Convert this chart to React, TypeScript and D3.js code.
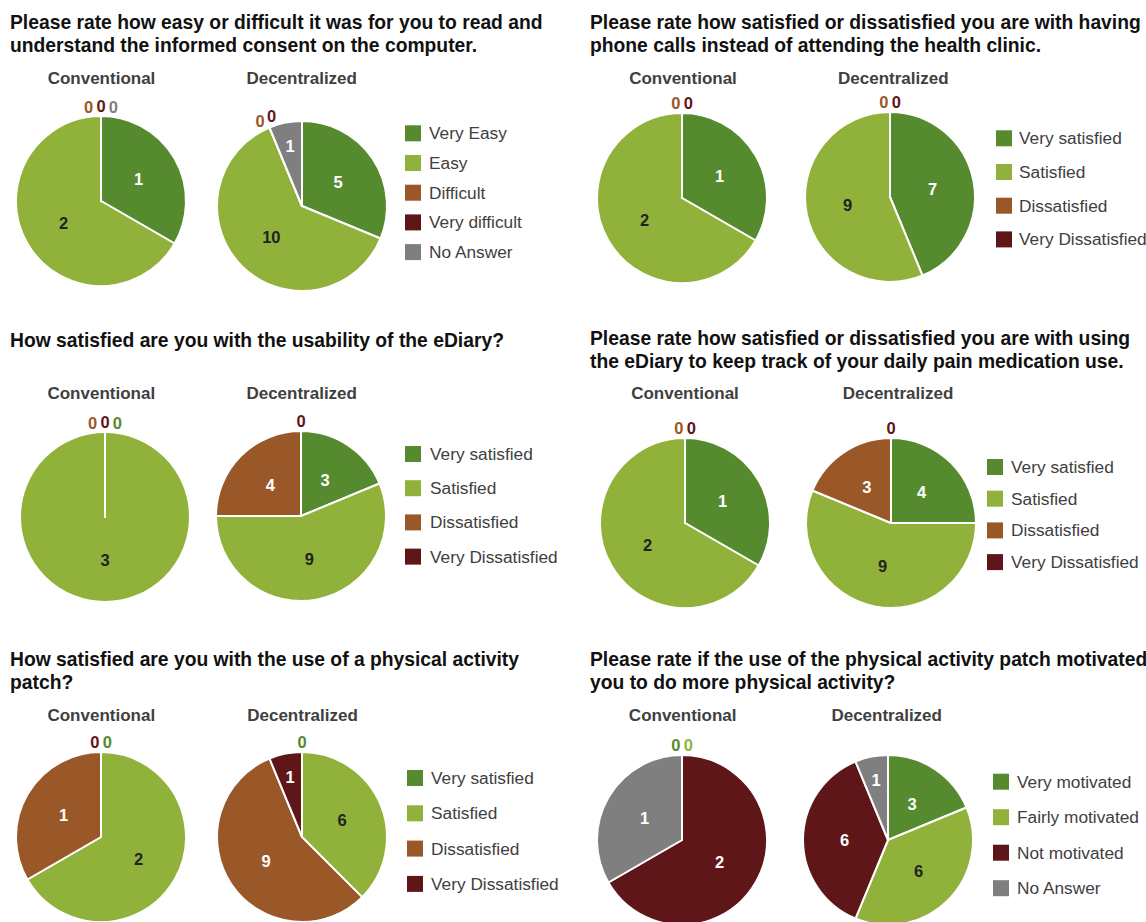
import React from "react";
import * as d3 from "d3";

// ---------- DATA ----------
const EASE_CATEGORIES = ["Very Easy", "Easy", "Difficult", "Very difficult", "No Answer"];
const SATISFACTION_CATEGORIES = ["Very satisfied", "Satisfied", "Dissatisfied", "Very Dissatisfied"];
const MOTIVATION_CATEGORIES = ["Very motivated", "Fairly motivated", "Not motivated", "No Answer"];
const GROUPS = ["Conventional", "Decentralized"];

const CONSENT_CONVENTIONAL = [1, 2, 0, 0, 0];
const CONSENT_DECENTRALIZED = [5, 10, 0, 0, 1];
const PHONE_CONVENTIONAL = [1, 2, 0, 0];
const PHONE_DECENTRALIZED = [7, 9, 0, 0];
const EDIARY_USABILITY_CONVENTIONAL = [0, 3, 0, 0];
const EDIARY_USABILITY_DECENTRALIZED = [3, 9, 4, 0];
const EDIARY_TRACK_CONVENTIONAL = [1, 2, 0, 0];
const EDIARY_TRACK_DECENTRALIZED = [4, 9, 3, 0];
const PATCH_SATISFACTION_CONVENTIONAL = [0, 2, 1, 0];
const PATCH_SATISFACTION_DECENTRALIZED = [0, 6, 9, 1];
const PATCH_MOTIVATION_CONVENTIONAL = [0, 0, 2, 1];
const PATCH_MOTIVATION_DECENTRALIZED = [3, 6, 6, 1];

const TITLES = [
  ["Please rate how easy or difficult it was for you to read and", "understand the informed consent on the computer."],
  ["Please rate how satisfied or dissatisfied you are with having", "phone calls instead of attending the health clinic."],
  ["How satisfied are you with the usability of the eDiary?"],
  ["Please rate how satisfied or dissatisfied you are with using", "the eDiary to keep track of your daily pain medication use."],
  ["How satisfied are you with the use of a physical activity", "patch?"],
  ["Please rate if the use of the physical activity patch motivated", "you to do more physical activity?"],
];

// ---------- STYLE ----------
const DARK_GREEN = "#558a2f";
const LIGHT_GREEN = "#90b23a";
const BROWN = "#9a5829";
const DARK_RED = "#5f1619";
const GRAY = "#7f7f7f";
const EASE_COLORS = [DARK_GREEN, LIGHT_GREEN, BROWN, DARK_RED, GRAY];
const SATISFACTION_COLORS = [DARK_GREEN, LIGHT_GREEN, BROWN, DARK_RED];
const MOTIVATION_COLORS = [DARK_GREEN, LIGHT_GREEN, DARK_RED, GRAY];

const FONT = "'Liberation Sans', Arial, Helvetica, sans-serif";
const R = 85;

type Panel = {
  title: string[];
  titleX: number;
  titleY: number;
  categories: string[];
  colors: string[];
  series: number[][];
  centers: [number, number][];
  headerX: number[];
  headerY: number;
  legend: { squareX: number; textX: number; y0: number; step: number };
};

const PANELS: Panel[] = [
  {
    title: TITLES[0], titleX: 10, titleY: 29,
    categories: EASE_CATEGORIES, colors: EASE_COLORS,
    series: [CONSENT_CONVENTIONAL, CONSENT_DECENTRALIZED],
    centers: [[101, 201], [302, 206]], headerX: [101.5, 301.7], headerY: 84,
    legend: { squareX: 405, textX: 429, y0: 133.3, step: 29.7 },
  },
  {
    title: TITLES[1], titleX: 590, titleY: 29,
    categories: SATISFACTION_CATEGORIES, colors: SATISFACTION_COLORS,
    series: [PHONE_CONVENTIONAL, PHONE_DECENTRALIZED],
    centers: [[682, 198], [890, 197]], headerX: [683, 893.3], headerY: 84,
    legend: { squareX: 996, textX: 1019, y0: 138.3, step: 33.7 },
  },
  {
    title: TITLES[2], titleX: 10, titleY: 347,
    categories: SATISFACTION_CATEGORIES, colors: SATISFACTION_COLORS,
    series: [EDIARY_USABILITY_CONVENTIONAL, EDIARY_USABILITY_DECENTRALIZED],
    centers: [[105, 517], [301, 516]], headerX: [101.3, 301.7], headerY: 399.3,
    legend: { squareX: 405, textX: 430, y0: 454, step: 34.2 },
  },
  {
    title: TITLES[3], titleX: 590, titleY: 345,
    categories: SATISFACTION_CATEGORIES, colors: SATISFACTION_COLORS,
    series: [EDIARY_TRACK_CONVENTIONAL, EDIARY_TRACK_DECENTRALIZED],
    centers: [[685, 523], [891, 523]], headerX: [685, 898], headerY: 399.3,
    legend: { squareX: 987, textX: 1011, y0: 467, step: 31.7 },
  },
  {
    title: TITLES[4], titleX: 10, titleY: 666,
    categories: SATISFACTION_CATEGORIES, colors: SATISFACTION_COLORS,
    series: [PATCH_SATISFACTION_CONVENTIONAL, PATCH_SATISFACTION_DECENTRALIZED],
    centers: [[101, 837], [302, 837]], headerX: [101.3, 302.5], headerY: 720.7,
    legend: { squareX: 407, textX: 431, y0: 778, step: 35.3 },
  },
  {
    title: TITLES[5], titleX: 590, titleY: 666,
    categories: MOTIVATION_CATEGORIES, colors: MOTIVATION_COLORS,
    series: [PATCH_MOTIVATION_CONVENTIONAL, PATCH_MOTIVATION_DECENTRALIZED],
    centers: [[682, 840], [888, 840]], headerX: [682.7, 886.7], headerY: 720.7,
    legend: { squareX: 993, textX: 1017, y0: 781.7, step: 35.5 },
  },
];

const TAU = Math.PI * 2;

function Pie({ values, colors, cx, cy }: { values: number[]; colors: string[]; cx: number; cy: number }) {
  const pie = d3.pie<number>().sort(null).value((d) => d).startAngle(0).endAngle(TAU);
  const arcs = pie(values);
  const arc = d3.arc<d3.PieArcDatum<number>>().innerRadius(0).outerRadius(R);

  // zero-valued labels, grouped by angular position
  const zeros = arcs
    .map((a, i) => {
      let key = a.startAngle;
      if (Math.abs(key - TAU) < 1e-6) key = -1e-3; // end-of-circle zeros sit just left of top
      return { i, key, pos: Math.abs(key) < 0.01 ? 0 : key };
    })
    .filter((z) => values[z.i] === 0)
    .sort((a, b) => a.pos - b.pos || a.key - b.key || a.i - b.i);
  const groups = d3.groups(zeros, (z) => Math.round(z.pos * 1000));
  const zeroLabels: { i: number; x: number; y: number }[] = [];
  const ZR = 95;
  const SP = 12.5;
  groups.forEach(([, items]) => {
    items.forEach((z, k) => {
      const ang = z.pos + ((k - (items.length - 1) / 2) * SP) / ZR;
      zeroLabels.push({ i: z.i, x: Math.sin(ang) * ZR, y: -Math.cos(ang) * ZR });
    });
  });

  return (
    <g transform={`translate(${cx},${cy})`}>
      {arcs.map((a, i) => (
        <path key={i} d={arc(a) || ""} fill={colors[i]} stroke="#fff" strokeWidth={2} strokeLinejoin="round" />
      ))}
      {arcs.map((a, i) => {
        if (values[i] === 0) return null;
        const span = a.endAngle - a.startAngle;
        const lr = span < 0.6 ? R * 0.72 : R * 0.51;
        const mid = (a.startAngle + a.endAngle) / 2;
        const x = Math.sin(mid) * lr;
        const y = -Math.cos(mid) * lr;
        const fill = colors[i] === LIGHT_GREEN ? "#222" : "#ffffff";
        return (
          <text key={"l" + i} x={x} y={y} textAnchor="middle" dominantBaseline="central"
            fontFamily={FONT} fontWeight="bold" fontSize={16.5} fill={fill}>
            {values[i]}
          </text>
        );
      })}
      {zeroLabels.map((z) => (
        <text key={"z" + z.i} x={z.x} y={z.y} textAnchor="middle" dominantBaseline="central"
          fontFamily={FONT} fontWeight="bold" fontSize={16.5} fill={colors[z.i]}>
          {values[z.i]}
        </text>
      ))}
    </g>
  );
}

function PanelView({ p }: { p: Panel }) {
  return (
    <g>
      <text x={p.titleX} y={p.titleY} fontFamily={FONT} fontWeight="bold" fontSize={19.3} fill="#111">
        {p.title.map((line, i) => (
          <tspan key={i} x={p.titleX} dy={i === 0 ? 0 : 23}>{line}</tspan>
        ))}
      </text>
      {GROUPS.map((g, gi) => (
        <text key={g} x={p.headerX[gi]} y={p.headerY} textAnchor="middle" fontFamily={FONT}
          fontWeight="bold" fontSize={17} fill="#404040">{g}</text>
      ))}
      {p.series.map((vals, gi) => (
        <Pie key={gi} values={vals} colors={p.colors} cx={p.centers[gi][0]} cy={p.centers[gi][1]} />
      ))}
      {p.categories.map((c, i) => {
        const y = p.legend.y0 + i * p.legend.step;
        return (
          <g key={c}>
            <rect x={p.legend.squareX} y={y - 8} width={16} height={16} fill={p.colors[i]} />
            <text x={p.legend.textX} y={y} dominantBaseline="central" fontFamily={FONT}
              fontSize={17.3} fill="#404040">{c}</text>
          </g>
        );
      })}
    </g>
  );
}

export default function App() {
  return (
    <svg width={1146} height={922} style={{ position: "absolute", left: 0, top: 0, background: "#fff" }}>
      <rect width={1146} height={922} fill="#fff" />
      {PANELS.map((p, i) => (
        <PanelView key={i} p={p} />
      ))}
    </svg>
  );
}
